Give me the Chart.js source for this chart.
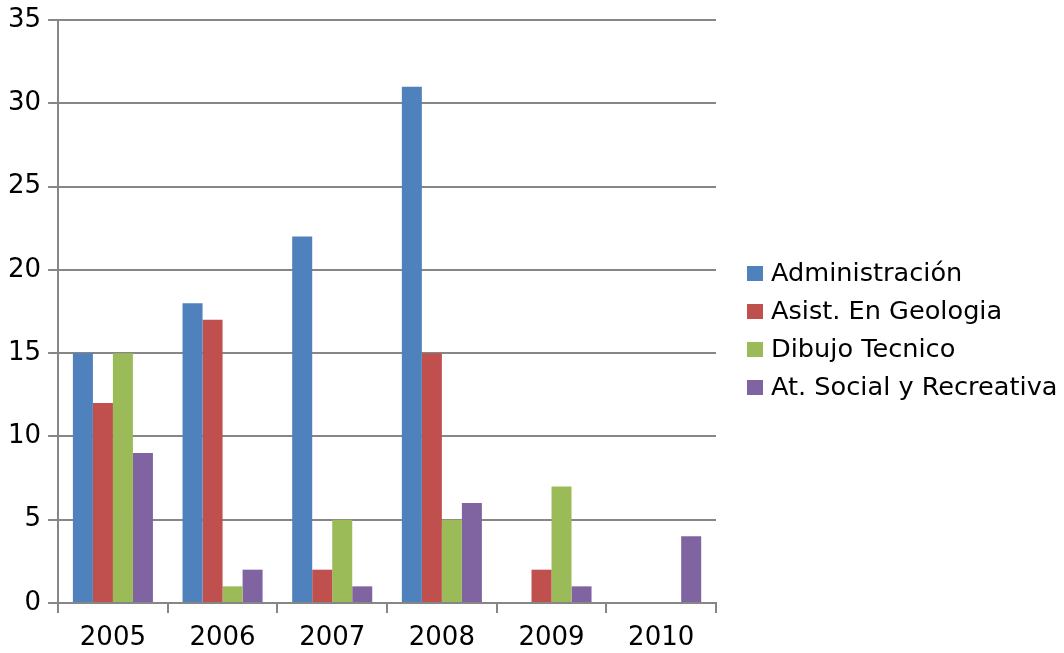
<!DOCTYPE html>
<html>
<head>
<meta charset="utf-8">
<script src="https://cdn.jsdelivr.net/npm/chart.js@4/dist/chart.umd.min.js"></script>
<style>
  body { margin: 0; background: #fff; }
  #wrap { position: relative; width: 1064px; height: 653px; }
  #legend {
    position: absolute; left: 747px; top: 253px;
    font-family: 'DejaVu Sans', sans-serif; font-size: 25.6px; color: #000;
  }
  .legend-item { display: flex; align-items: center; height: 38px; white-space: nowrap; }
  .legend-box { width: 16px; height: 15px; margin-right: 8px; margin-top: 2px; }
</style>
</head>
<body>
<div id="wrap">
  <canvas id="chartCanvas" width="1064" height="653"></canvas>
  <div id="legend"></div>
</div>
<script>
const years = ["2005", "2006", "2007", "2008", "2009", "2010"];
const seriesNames = ["Administración", "Asist. En Geologia", "Dibujo Tecnico", "At. Social y Recreativa"];
const administracion = [15, 18, 22, 31, 0, 0];
const asistGeologia = [12, 17, 2, 15, 2, 0];
const dibujoTecnico = [15, 1, 5, 5, 7, 0];
const atSocial = [9, 2, 1, 6, 1, 4];
const yTicks = [0, 5, 10, 15, 20, 25, 30, 35];

const COLORS = ["#4F81BD", "#C0504D", "#9BBB59", "#8064A2"];
const GRID = "#868686";
const FONT = { family: "'DejaVu Sans', sans-serif", size: 26, lineHeight: 1.0 };

const seriesData = [administracion, asistGeologia, dibujoTecnico, atSocial];

const ctx = document.getElementById("chartCanvas").getContext("2d");
new Chart(ctx, {
  type: "bar",
  data: {
    labels: years,
    datasets: seriesNames.map((name, i) => ({
      label: name,
      data: seriesData[i],
      backgroundColor: COLORS[i],
    })),
  },
  options: {
    responsive: false,
    animation: false,
    devicePixelRatio: 1,
    layout: { padding: { top: 0, left: 1, right: 348, bottom: -10 } },
    datasets: { bar: { categoryPercentage: 0.73, barPercentage: 1.0 } },
    scales: {
      x: {
        ticks: { color: "#000", font: FONT, padding: 12 },
        grid: { drawOnChartArea: false, drawTicks: true, tickLength: 10, color: GRID, lineWidth: 2, offset: true },
        border: { color: GRID, width: 2 },
      },
      y: {
        min: 0,
        max: 35,
        afterBuildTicks: (axis) => { axis.ticks = yTicks.map((v) => ({ value: v })); },
        ticks: { color: "#000", font: FONT, padding: 7 },
        grid: { color: GRID, lineWidth: 2, tickLength: 10 },
        border: { color: GRID, width: 2 },
      },
    },
    plugins: {
      tooltip: { enabled: false },
      legend: { display: false },
    },
  },
});

// Leyenda HTML
document.getElementById("legend").innerHTML = seriesNames
  .map((n, i) => `<div class="legend-item"><span class="legend-box" style="background:${COLORS[i]}"></span><span>${n}</span></div>`)
  .join("");
</script>
</body>
</html>
